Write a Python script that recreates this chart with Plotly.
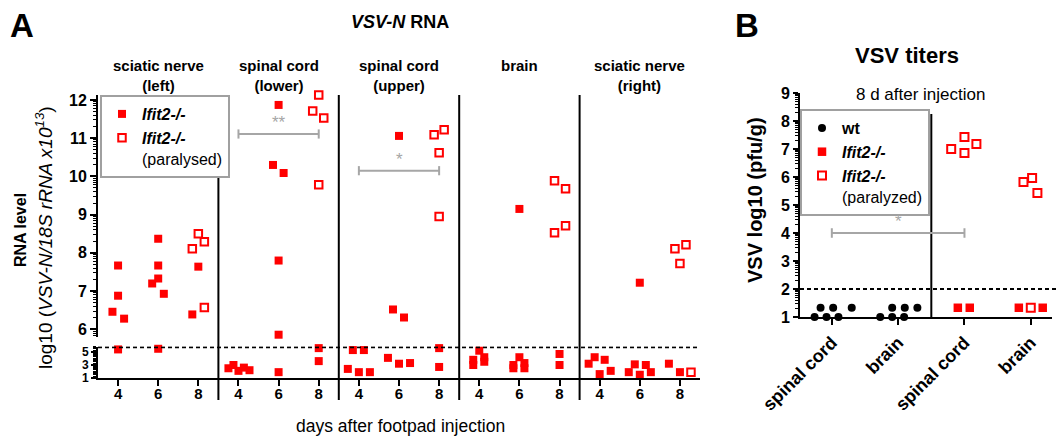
import numpy as np
import plotly.graph_objects as go

W, H = 1057, 437
FONT = "Arial, 'Liberation Sans', sans-serif"
RED = "#FF0000"
GREY = "#A6A6A6"

# ---------------- Panel A data ----------------
panel_titles = ["<b>sciatic nerve</b><br><b>(left)</b>", "<b>spinal cord</b><br><b>(lower)</b>",
                "<b>spinal cord</b><br><b>(upper)</b>", "<b>brain</b>",
                "<b>sciatic nerve</b><br><b>(right)</b>"]
days = [4, 6, 8]
day_labels = ["4", "6", "8"]

# sciatic nerve (left)
p1_day = [4, 4, 4, 4, 4, 6, 6, 6, 6, 6, 6, 8, 8, 8, 8, 8, 8]
p1_val = [7.67, 6.88, 6.46, 6.28, 5.4, 8.37, 7.67, 7.33, 7.20, 6.93, 5.5,
          8.50, 8.11, 8.29, 7.64, 6.39, 6.57]
p1_par = [0, 0, 0, 0, 0, 0, 0, 0, 0, 0, 0, 1, 1, 1, 0, 0, 1]
p1_jit = [0, 0, -0.28, 0.3, 0, 0, 0, 0, -0.3, 0.28, 0, 0, -0.3, 0.3, 0, -0.3, 0.3]

# spinal cord (lower)
p2_day = [4, 4, 4, 4, 4, 6, 6, 6, 6, 6, 6, 8, 8, 8, 8, 8, 8]
p2_val = [2.5, 3.0, 2.1, 2.6, 2.2, 11.87, 10.30, 10.09, 7.80, 5.86, 1.9,
          12.13, 11.71, 11.53, 9.78, 5.6, 3.6]
p2_par = [0, 0, 0, 0, 0, 0, 0, 0, 0, 0, 0, 1, 1, 1, 1, 0, 0]
p2_jit = [-0.5, -0.25, 0, 0.27, 0.55, 0, -0.28, 0.25, 0, 0, 0, 0, -0.3, 0.25, 0, 0, 0]

# spinal cord (upper)
p3_day = [4, 4, 4, 4, 4, 6, 6, 6, 6, 6, 6, 8, 8, 8, 8, 8, 8]
p3_val = [5.3, 5.3, 2.4, 1.9, 1.9, 11.06, 6.52, 6.31, 4.1, 3.2, 3.3,
          11.09, 11.22, 10.62, 8.95, 5.6, 2.7]
p3_par = [0, 0, 0, 0, 0, 0, 0, 0, 0, 0, 0, 1, 1, 1, 1, 0, 0]
p3_jit = [-0.3, 0.25, -0.55, 0, 0.55, 0, -0.3, 0.25, -0.55, 0, 0.55, -0.25, 0.25, 0, 0, 0, 0]

# brain
p4_day = [4, 4, 4, 4, 4, 6, 6, 6, 6, 6, 6, 8, 8, 8, 8, 8, 8]
p4_val = [5.2, 4.2, 3.5, 3.8, 3.0, 9.15, 4.2, 3.0, 2.5, 3.3, 2.5,
          9.89, 9.68, 8.71, 8.53, 4.7, 3.0]
p4_par = [0, 0, 0, 0, 0, 0, 0, 0, 0, 0, 0, 1, 1, 1, 1, 0, 0]
p4_jit = [0, 0.25, 0.25, -0.3, -0.3, 0, 0, -0.3, -0.3, 0.25, 0.25, -0.25, 0.3, 0.3, -0.25, 0, 0]

# sciatic nerve (right)
p5_day = [4, 4, 4, 4, 4, 6, 6, 6, 6, 6, 6, 8, 8, 8, 8, 8, 8]
p5_val = [3.2, 4.2, 1.6, 3.8, 2.1, 7.22, 1.9, 3.1, 1.5, 3.0, 1.9,
          8.11, 8.21, 7.72, 3.2, 1.9, 1.9]
p5_par = [0, 0, 0, 0, 0, 0, 0, 0, 0, 0, 0, 1, 1, 1, 0, 0, 1]
p5_jit = [-0.55, -0.25, 0, 0.25, 0.55, 0, -0.55, -0.25, 0, 0.3, 0.55, -0.25, 0.3, 0, -0.55, 0, 0.55]

panels = [(p1_day, p1_val, p1_par, p1_jit), (p2_day, p2_val, p2_par, p2_jit),
          (p3_day, p3_val, p3_par, p3_jit), (p4_day, p4_val, p4_par, p4_jit),
          (p5_day, p5_val, p5_par, p5_jit)]

A_limit = 5.75        # detection limit (dashed line)
A_break = 5.8         # axis break value
sig_A = [(1, 4, 8, 11.11, "**"), (2, 4, 8, 10.15, "*")]  # panel, day from, day to, level, label

# ---------------- Panel B data ----------------
B_categories = ["spinal cord", "brain", "spinal cord", "brain"]
wt_sc = [1, 1, 1, 1.33, 1.33, 1.33]
wt_sc_jit = [-0.26, -0.08, 0.1, -0.17, 0.02, 0.3]
wt_br = [1, 1, 1, 1.33, 1.33, 1.33]
wt_br_jit = [-0.27, -0.09, 0.09, -0.09, 0.1, 0.29]
ko_sc_filled = [1.33, 1.33]
ko_sc_filled_jit = [-0.1, 0.08]
ko_sc_open = [7.0, 7.43, 6.86, 7.18]
ko_sc_open_jit = [-0.2, 0.0, 0.0, 0.18]
ko_br_filled = [1.33, 1.33]
ko_br_filled_jit = [-0.18, 0.18]
ko_br_open = [5.82, 5.96, 5.43, 1.33]
ko_br_open_jit = [-0.11, 0.02, 0.1, 0.0]
B_limit = 2.0
sig_B = (0, 2, 4.0, "*")


def px(x):
    return x / W


def py(y):
    return 1 - y / H


def panel_x(k, d, j):
    return 6 * k + (d - 3) + j


def log_minor(lo, hi):
    vals = []
    for n in range(int(np.floor(lo)) - 1, int(np.ceil(hi)) + 1):
        for m in range(2, 10):
            v = n + np.log10(m)
            if lo <= v <= hi:
                vals.append(round(v, 4))
    return vals


fig = go.Figure()

# collect A points
fu_x, fu_y, fl_x, fl_y, ou_x, ou_y, ol_x, ol_y = ([] for _ in range(8))
for k, (dd, vv, pp, jj) in enumerate(panels):
    for d, v, p, j in zip(dd, vv, pp, jj):
        x = panel_x(k, d, j)
        upper = v > A_break
        if p:
            (ou_x if upper else ol_x).append(x)
            (ou_y if upper else ol_y).append(v)
        else:
            (fu_x if upper else fl_x).append(x)
            (fu_y if upper else fl_y).append(v)

filled_m = dict(symbol="square", size=8, color=RED, line=dict(width=0))
open_m = dict(symbol="square-open", size=7.5, color=RED, line=dict(width=2, color=RED))
ko_name = "<b><i>Ifit2-/-</i></b>"

fig.add_trace(go.Scatter(x=fu_x, y=fu_y, mode="markers", marker=filled_m, xaxis="x", yaxis="y",
                         name=ko_name, legend="legend", legendrank=1, cliponaxis=False))
fig.add_trace(go.Scatter(x=fl_x, y=fl_y, mode="markers", marker=filled_m, xaxis="x", yaxis="y2",
                         showlegend=False, cliponaxis=False))
fig.add_trace(go.Scatter(x=ou_x, y=ou_y, mode="markers", marker=open_m, xaxis="x", yaxis="y",
                         name=ko_name + "<br>(paralysed)", legend="legend", legendrank=2,
                         cliponaxis=False))
fig.add_trace(go.Scatter(x=ol_x, y=ol_y, mode="markers", marker=open_m, xaxis="x", yaxis="y2",
                         showlegend=False, cliponaxis=False))

# B points
fig.add_trace(go.Scatter(x=[0 + j for j in wt_sc_jit] + [1 + j for j in wt_br_jit], y=wt_sc + wt_br,
                         mode="markers", marker=dict(symbol="circle", size=8, color="black"),
                         xaxis="x2", yaxis="y3", name="<b>wt</b>", legend="legend2", legendrank=1,
                         cliponaxis=False))
fig.add_trace(go.Scatter(x=[2 + j for j in ko_sc_filled_jit] + [3 + j for j in ko_br_filled_jit],
                         y=ko_sc_filled + ko_br_filled, mode="markers",
                         marker=dict(symbol="square", size=8.5, color=RED),
                         xaxis="x2", yaxis="y3", name=ko_name, legend="legend2", legendrank=2,
                         cliponaxis=False))
fig.add_trace(go.Scatter(x=[2 + j for j in ko_sc_open_jit] + [3 + j for j in ko_br_open_jit],
                         y=ko_sc_open + ko_br_open, mode="markers",
                         marker=dict(symbol="square-open", size=8, color=RED, line=dict(width=2, color=RED)),
                         xaxis="x2", yaxis="y3", name=ko_name + "<br>(paralyzed)", legend="legend2",
                         legendrank=3, cliponaxis=False))

axis_common = dict(showline=True, linewidth=2, linecolor="black", ticks="outside", tickwidth=2,
                   tickcolor="black", showgrid=False, zeroline=False, fixedrange=True,
                   automargin=False)

A_xticks = [panel_x(k, d, 0) for k in range(5) for d in days]
A_xtext = ["<b>%s</b>" % t for _ in range(5) for t in day_labels]

upper_range = [A_break, 12.13]
lower_range = [1, 5.85]

legend_common = dict(xanchor="left", yanchor="top", bordercolor="#A0A0A0", borderwidth=2,
                     bgcolor="white", font=dict(size=16), tracegroupgap=0, itemwidth=30,
                     valign="top")

fig.update_layout(
    template="none",
    width=W, height=H, margin=dict(l=0, r=0, t=0, b=0, pad=0), autosize=False,
    paper_bgcolor="white", plot_bgcolor="rgba(0,0,0,0)",
    font=dict(family=FONT, color="black"),
    xaxis=dict(axis_common, domain=[px(98), px(700)], range=[0, 30], anchor="y2",
               tickvals=A_xticks, ticktext=A_xtext, ticklen=6, tickfont=dict(size=15),
               ticklabelstandoff=-5),
    yaxis=dict(axis_common, domain=[py(337), py(95)], range=upper_range, anchor="x",
               tickvals=list(range(6, 13)), ticktext=["<b>%d</b>" % v for v in range(6, 13)],
               ticklen=6, tickfont=dict(size=16),
               minor=dict(tickvals=log_minor(*upper_range), ticklen=3, tickwidth=1,
                          ticks="outside", tickcolor="black")),
    yaxis2=dict(axis_common, domain=[py(378), py(346.5)], range=lower_range, anchor="x",
                tickvals=[1, 3, 5], ticktext=["<b>1</b>", "<b>3</b>", "<b>5</b>"],
                ticklen=5, tickfont=dict(size=12),
                minor=dict(tickvals=log_minor(*lower_range), ticklen=3, tickwidth=1,
                           ticks="outside", tickcolor="black")),
    xaxis2=dict(axis_common, domain=[px(800), px(1052)], range=[-0.48, 3.32], anchor="y3",
                tickvals=[0, 1, 2, 3], ticktext=["<b>%s</b>" % c for c in B_categories],
                tickangle=-45, ticklen=6, tickfont=dict(size=18)),
    yaxis3=dict(axis_common, domain=[py(317), py(93)], range=[1, 9], anchor="x2",
                tickvals=list(range(1, 10)), ticktext=["<b>%d</b>" % v for v in range(1, 10)],
                ticklen=5, tickfont=dict(size=16),
                minor=dict(tickvals=log_minor(1, 9), ticklen=3, tickwidth=1,
                           ticks="outside", tickcolor="black")),
    legend=dict(legend_common, x=px(100), y=py(95)),
    legend2=dict(legend_common, x=px(800), y=py(109)),
)

shapes = []
# Panel A dividers
for k in range(1, 5):
    shapes.append(dict(type="line", xref="x", yref="paper", x0=6 * k, x1=6 * k,
                       y0=py(400), y1=py(95), line=dict(color="black", width=2)))
# Panel A detection limit
shapes.append(dict(type="line", xref="x", yref="y2", x0=0, x1=30, y0=A_limit, y1=A_limit,
                   line=dict(color="black", width=2, dash="4px,3px")))
# Panel A significance bars
annotations = []
for k, d0, d1, lvl, lab in sig_A:
    x0, x1 = panel_x(k, d0, 0), panel_x(k, d1, 0)
    shapes.append(dict(type="line", xref="x", yref="y", x0=x0, x1=x1, y0=lvl, y1=lvl,
                       line=dict(color=GREY, width=2)))
    for xx in (x0, x1):
        shapes.append(dict(type="line", xref="x", yref="y", x0=xx, x1=xx, y0=lvl - 0.12, y1=lvl + 0.12,
                           line=dict(color=GREY, width=2)))
    annotations.append(dict(x=(x0 + x1) / 2, y=lvl, xref="x", yref="y", text=lab, showarrow=False,
                            xanchor="center", yanchor="bottom", font=dict(size=17, color=GREY)))

# Panel B divider, limit, sig bar
shapes.append(dict(type="line", xref="x2", yref="y3", x0=1.5, x1=1.5, y0=1, y1=8.25,
                   line=dict(color="black", width=2)))
shapes.append(dict(type="line", xref="paper", yref="y3", x0=px(800), x1=1.0, y0=B_limit, y1=B_limit,
                   line=dict(color="black", width=2, dash="4px,3px")))
b0, b1, blvl, blab = sig_B
shapes.append(dict(type="line", xref="x2", yref="y3", x0=b0, x1=b1, y0=blvl, y1=blvl,
                   line=dict(color=GREY, width=2)))
for xx in (b0, b1):
    shapes.append(dict(type="line", xref="x2", yref="y3", x0=xx, x1=xx, y0=blvl - 0.17, y1=blvl + 0.17,
                       line=dict(color=GREY, width=2)))
annotations.append(dict(x=(b0 + b1) / 2, y=blvl, xref="x2", yref="y3", text=blab, showarrow=False,
                        xanchor="center", yanchor="bottom", font=dict(size=17, color=GREY)))

# panel titles A
for k, t in enumerate(panel_titles):
    annotations.append(dict(x=panel_x(k, 6, 0), y=py(55), xref="x", yref="paper", text=t,
                            showarrow=False, xanchor="center", yanchor="top", font=dict(size=15)))


def txt(x, y, text, size, angle=0):
    return dict(x=px(x), y=py(y), xref="paper", yref="paper", text=text, showarrow=False,
                xanchor="center", yanchor="middle", textangle=angle, font=dict(size=size))


annotations += [
    txt(22, 25, "<b>A</b>", 33),
    txt(747, 25, "<b>B</b>", 33),
    txt(400, 22, "<b><i>VSV-N</i> RNA</b>", 18),
    txt(907, 55, "<b>VSV titers</b>", 22),
    txt(920, 95, "8 d after injection", 17),
    txt(400, 426, "days after footpad injection", 17.5),
    txt(20, 230, "<b>RNA level</b>", 16, -90),
    txt(44, 238, "log10 (<i>VSV-N/18S rRNA x10<sup>13</sup></i>)", 19, -90),
    txt(755, 200, "<b>VSV log10 (pfu/g)</b>", 20, -90),
]

fig.update_layout(shapes=shapes, annotations=annotations)
fig.write_html("out.html", config={"displayModeBar": False},
               post_script="document.body.style.margin='0';document.body.style.overflow='hidden';")
